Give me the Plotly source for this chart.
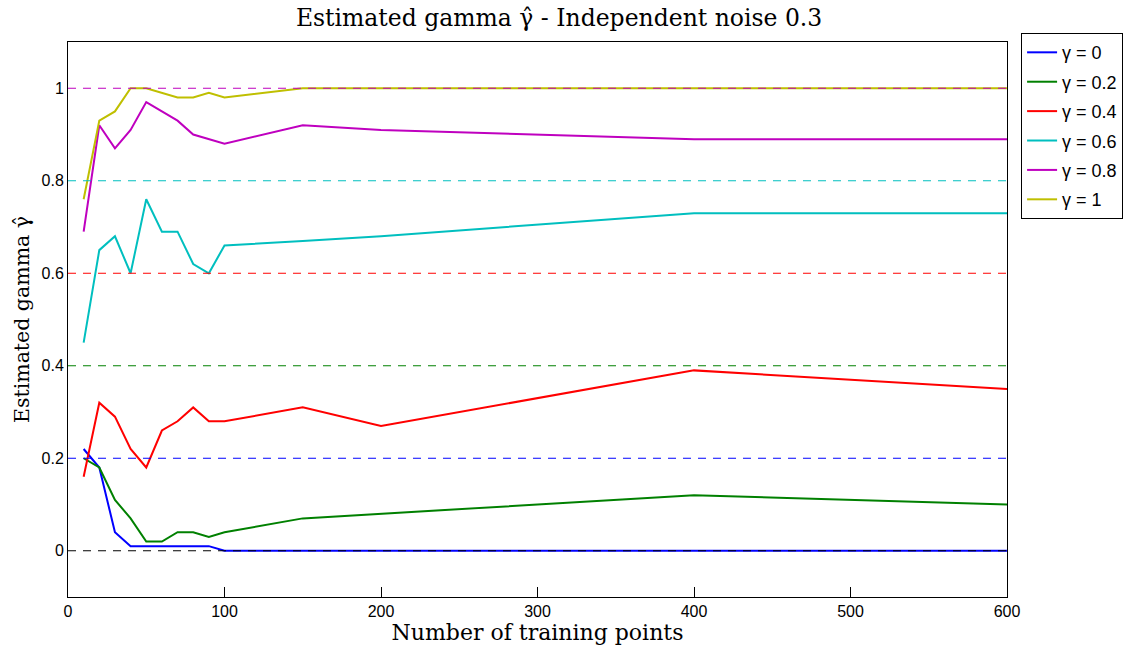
import plotly.graph_objects as go

# Training set sizes
n_points = [10, 20, 30, 40, 50, 60, 70, 80, 90, 100, 150, 200, 400, 600]

# True gamma values and the estimates obtained for each
gammas = [0, 0.2, 0.4, 0.6, 0.8, 1]
est_g0 = [0.22, 0.18, 0.04, 0.01, 0.01, 0.01, 0.01, 0.01, 0.01, 0.0, 0.0, 0.0, 0.0, 0.0]
est_g02 = [0.20, 0.18, 0.11, 0.07, 0.02, 0.02, 0.04, 0.04, 0.03, 0.04, 0.07, 0.08, 0.12, 0.10]
est_g04 = [0.16, 0.32, 0.29, 0.22, 0.18, 0.26, 0.28, 0.31, 0.28, 0.28, 0.31, 0.27, 0.39, 0.35]
est_g06 = [0.45, 0.65, 0.68, 0.60, 0.76, 0.69, 0.69, 0.62, 0.60, 0.66, 0.67, 0.68, 0.73, 0.73]
est_g08 = [0.69, 0.92, 0.87, 0.91, 0.97, 0.95, 0.93, 0.90, 0.89, 0.88, 0.92, 0.91, 0.89, 0.89]
est_g1 = [0.76, 0.93, 0.95, 1.0, 1.0, 0.99, 0.98, 0.98, 0.99, 0.98, 1.0, 1.0, 1.0, 1.0]
estimates = [est_g0, est_g02, est_g04, est_g06, est_g08, est_g1]

legend_labels = ["γ = 0", "γ = 0.2", "γ = 0.4", "γ = 0.6", "γ = 0.8", "γ = 1"]
line_colors = ["#0000FF", "#008000", "#FF0000", "#00BFBF", "#BF00BF", "#BFBF00"]
ref_colors = ["#000000", "#0000FF", "#008000", "#FF0000", "#00BFBF", "#BF00BF"]

y_ticks = [0, 0.2, 0.4, 0.6, 0.8, 1]
y_tick_text = ["0", "0.2", "0.4", "0.6", "0.8", "1"]
x_ticks = [0, 100, 200, 300, 400, 500, 600]

serif = "DejaVu Serif, Liberation Serif, serif"
sans = "Liberation Sans, Arial, sans-serif"

fig = go.Figure()

for label, color, est in zip(legend_labels, line_colors, estimates):
    fig.add_trace(go.Scatter(
        x=n_points, y=est, mode="lines", name=label, legendgroup=label,
        line=dict(color=color, width=2),
    ))

# Dashed reference levels at each true gamma, drawn over the curves
for g, color in zip(gammas, ref_colors):
    fig.add_trace(go.Scatter(
        x=[0, 600], y=[g, g], mode="lines", showlegend=False,
        hoverinfo="skip",
        line=dict(color=color, width=1, dash="8px,7px"),
    ))

fig.update_layout(
    width=1144, height=650,
    margin=dict(l=68, r=137, t=42, b=47),
    paper_bgcolor="white", plot_bgcolor="white",
    title=dict(
        text="Estimated gamma γ\u0302 - Independent noise 0.3",
        font=dict(family=serif, size=23.5, color="#000"),
        x=0.523, xref="paper", xanchor="center", y=0.972, yanchor="middle",
    ),
    legend=dict(
        x=1.015, y=1.016, xanchor="left", yanchor="top",
        bordercolor="#000", borderwidth=1, bgcolor="white",
        font=dict(family=sans, size=18, color="#000"),
        tracegroupgap=3, entrywidth=108,
    ),
    xaxis=dict(
        range=[0, 600], tickvals=x_ticks, ticks="inside", ticklen=10,
        tickcolor="#000", showgrid=False, zeroline=False,
        showline=True, linecolor="#000", linewidth=1, mirror=True,
        tickfont=dict(family=sans, size=16, color="#000"),
        title=dict(text="Number of training points",
                   font=dict(family=serif, size=22, color="#000"), standoff=2),
    ),
    yaxis=dict(
        range=[-0.1, 1.1], tickvals=y_ticks, ticktext=y_tick_text, ticks="",
        showgrid=False, zeroline=False,
        showline=True, linecolor="#000", linewidth=1, mirror=True,
        tickfont=dict(family=sans, size=16, color="#000"),
        title=dict(text="Estimated gamma γ\u0302",
                   font=dict(family=serif, size=20.5, color="#000"), standoff=6),
    ),
)

fig.write_html("out.html")
